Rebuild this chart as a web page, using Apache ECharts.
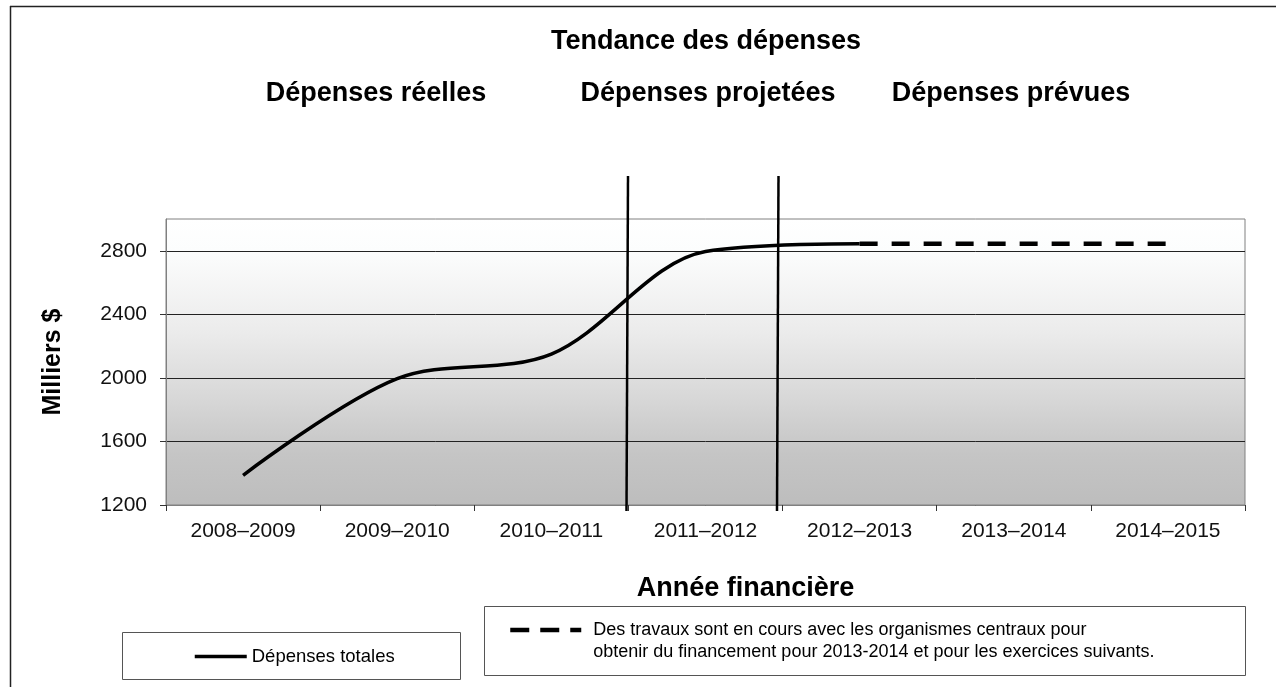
<!DOCTYPE html>
<html>
<head>
<meta charset="utf-8">
<title>Tendance des dépenses</title>
<script src="https://cdn.jsdelivr.net/npm/echarts@6/dist/echarts.min.js"></script>
<style>
  html, body { margin: 0; padding: 0; background: #fff; }
  #chart { width: 1285px; height: 687px; }
</style>
</head>
<body>
<div id="chart"></div>
<script>
// données (milliers de $)
var years = ['2008–2009', '2009–2010', '2010–2011', '2011–2012', '2012–2013', '2013–2014', '2014–2015']
var depensesTotales = [1387, 1995, 2150, 2795, 2845, null, null]
var depensesPrevues = [null, null, null, null, 2845, 2845, 2845]
var yTicks = [1200, 1600, 2000, 2400, 2800]

var nomTotal = 'Dépenses totales'
var nomPrevu = 'Des travaux sont en cours avec les organismes centraux pour\nobtenir du financement pour 2013-2014 et pour les exercices suivants.'

var font = 'Liberation Sans'
var chart = echarts.init(document.getElementById('chart'))

chart.setOption({
  backgroundColor: '#fff',
  animation: false,
  textStyle: { fontFamily: font, color: '#000' },
  title: [
    { text: 'Tendance des dépenses', left: 706, top: 28, padding: 0, textAlign: 'center',
      textStyle: { fontSize: 27, fontWeight: 'bold', fontFamily: font, color: '#000' } },
    { text: 'Dépenses réelles', left: 376, top: 80, padding: 0, textAlign: 'center',
      textStyle: { fontSize: 27, fontWeight: 'bold', fontFamily: font, color: '#000' } },
    { text: 'Dépenses projetées', left: 708, top: 80, padding: 0, textAlign: 'center',
      textStyle: { fontSize: 27, fontWeight: 'bold', fontFamily: font, color: '#000' } },
    { text: 'Dépenses prévues', left: 1011, top: 80, padding: 0, textAlign: 'center',
      textStyle: { fontSize: 27, fontWeight: 'bold', fontFamily: font, color: '#000' } }
  ],
  grid: {
    left: 166,
    right: 40,
    top: 219,
    bottom: 182,
    show: true,
    borderColor: '#808080',
    borderWidth: 1,
    backgroundColor: new echarts.graphic.LinearGradient(0, 0, 0, 1, [
      { offset: 0, color: '#ffffff' },
      { offset: 0.11, color: '#fcfdfd' },
      { offset: 0.4, color: '#ebebeb' },
      { offset: 0.62, color: '#d8d8d8' },
      { offset: 0.82, color: '#c5c5c5' },
      { offset: 1, color: '#bdbdbd' }
    ])
  },
  legend: [
    {
      data: [nomTotal],
      left: 188,
      top: 642,
      itemWidth: 52,
      itemHeight: 22,
      itemStyle: { opacity: 0 },
      lineStyle: { width: 3.5 },
      textStyle: { fontSize: 18.5, fontFamily: font, color: '#000' }
    },
    {
      data: [nomPrevu],
      left: 503,
      top: 592,
      itemWidth: 71,
      itemHeight: 22,
      itemStyle: { opacity: 0 },
      lineStyle: { width: 4.5, type: [19, 11] },
      // ligne vide en tête : l'icône s'aligne sur la première ligne du texte
      formatter: function (name) { return '\n' + name },
      textStyle: { fontSize: 18, lineHeight: 22, fontFamily: font, color: '#000', padding: [0, 0, 0, 7] }
    }
  ],
  xAxis: {
    type: 'category',
    data: years,
    boundaryGap: true,
    name: 'Année financière',
    nameLocation: 'middle',
    nameGap: 70,
    nameTextStyle: { fontSize: 27, fontWeight: 'bold', fontFamily: font, color: '#000', padding: [0, 0, 0, 80] },
    axisLine: { lineStyle: { color: '#808080', width: 1 } },
    axisTick: { show: true, length: 6, alignWithLabel: false, lineStyle: { color: '#333' } },
    axisLabel: { fontSize: 21, color: '#111', margin: 16, interval: 0 },
    splitLine: { show: false }
  },
  yAxis: {
    type: 'value',
    min: 1200,
    max: 3000,
    interval: 400,
    name: 'Milliers $',
    nameLocation: 'middle',
    nameGap: 100,
    nameRotate: 90,
    nameTextStyle: { fontSize: 25, fontWeight: 'bold', fontFamily: font, color: '#000' },
    axisLine: { show: true, lineStyle: { color: '#808080', width: 1 } },
    axisTick: { show: true, length: 6, lineStyle: { color: '#333' } },
    axisLabel: {
      fontSize: 21,
      color: '#111',
      margin: 19,
      showMaxLabel: false,
      formatter: function (v) { return yTicks.indexOf(v) >= 0 ? String(v) : '' }
    },
    splitLine: { show: true, showMaxLine: false, lineStyle: { color: '#222', width: 1 } }
  },
  series: [
    {
      name: nomTotal,
      type: 'line',
      data: depensesTotales,
      smooth: 0.33,
      symbol: 'none',
      connectNulls: false,
      lineStyle: { color: '#000', width: 3.5 },
      itemStyle: { color: '#000' },
      z: 3
    },
    {
      name: nomPrevu,
      type: 'line',
      data: depensesPrevues,
      symbol: 'none',
      lineStyle: { color: '#000', width: 4.5, type: [18, 14] },
      itemStyle: { color: '#000' },
      z: 3
    }
  ],
  graphic: [
    // cadre extérieur (gauche et haut)
    { type: 'line', shape: { x1: 10.5, y1: 6, x2: 10.5, y2: 687 }, style: { stroke: '#222', lineWidth: 1.5 } },
    { type: 'line', shape: { x1: 10, y1: 6.5, x2: 1276, y2: 6.5 }, style: { stroke: '#222', lineWidth: 1.5 } },
    // séparateurs réelles / projetées / prévues
    { type: 'line', z: 10, shape: { x1: 628, y1: 176, x2: 626.5, y2: 511 }, style: { stroke: '#000', lineWidth: 2.5 } },
    { type: 'line', z: 10, shape: { x1: 778.5, y1: 176, x2: 777, y2: 511 }, style: { stroke: '#000', lineWidth: 2.5 } },
    // cadres des légendes
    { type: 'rect', z: -1, shape: { x: 122.5, y: 632.5, width: 338, height: 47 }, style: { fill: '#fff', stroke: '#555', lineWidth: 1 } },
    { type: 'rect', z: -1, shape: { x: 484.5, y: 606.5, width: 761, height: 69 }, style: { fill: '#fff', stroke: '#555', lineWidth: 1 } }
  ]
})
</script>
</body>
</html>
